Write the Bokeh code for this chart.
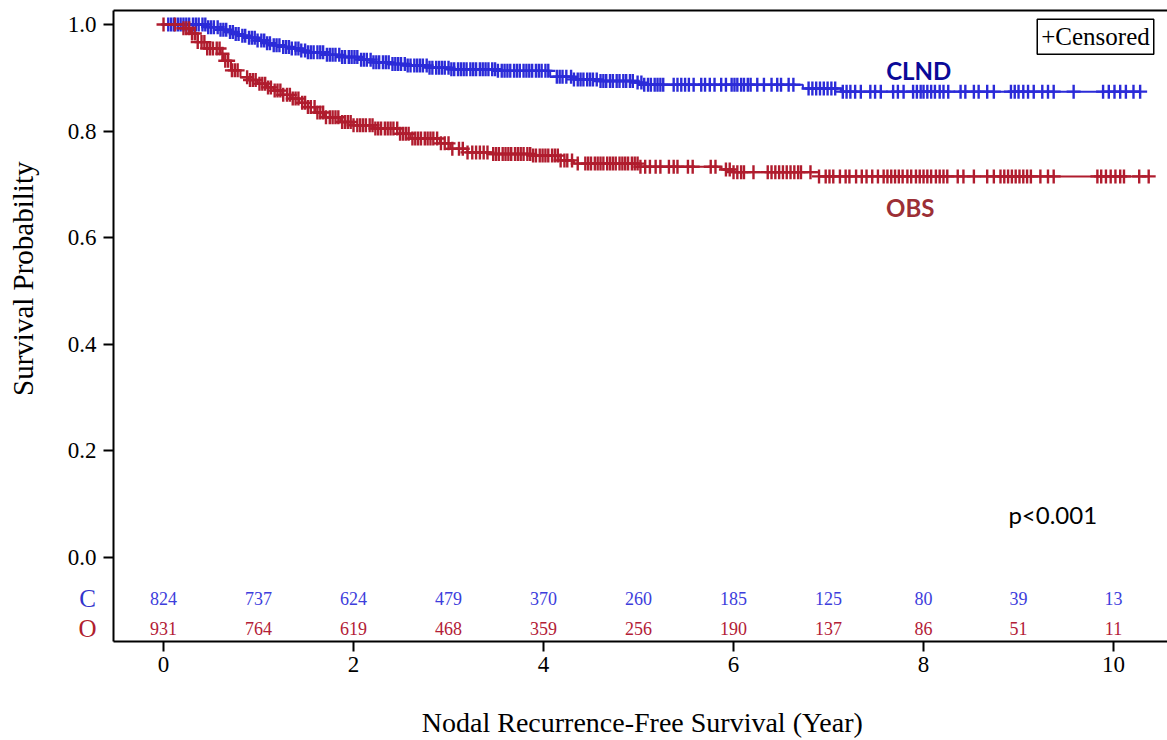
import numpy as np
from bokeh.plotting import figure
from bokeh.models import Range1d, FixedTicker, Label, ColumnDataSource
from bokeh.core.properties import value
from bokeh.embed import file_html
from bokeh.resources import INLINE

# ---------------- data ----------------
clnd_time = [0.0, 0.46, 0.60, 0.67, 0.75, 0.81, 0.90, 0.99, 1.08, 1.16, 1.25, 1.34, 1.43,
             1.52, 1.70, 1.86, 2.05, 2.21, 2.40, 2.57, 2.80, 3.02, 3.50, 4.07, 4.32, 4.60,
             4.95, 5.05, 6.73, 7.13, 10.28]
clnd_surv = [1.0, 0.995, 0.990, 0.986, 0.982, 0.979, 0.975, 0.970, 0.965, 0.961, 0.958, 0.955,
             0.951, 0.948, 0.943, 0.939, 0.934, 0.929, 0.926, 0.923, 0.919, 0.916, 0.913, 0.902,
             0.897, 0.894, 0.891, 0.887, 0.880, 0.874, 0.874]

obs_time = [0.0, 0.21, 0.28, 0.36, 0.46, 0.60, 0.63, 0.71, 0.81, 0.90, 0.99, 1.08, 1.16, 1.25,
            1.34, 1.43, 1.52, 1.60, 1.69, 1.86, 2.00, 2.21, 2.49, 2.60, 2.91, 3.02, 3.20, 3.47,
            3.89, 4.18, 4.32, 5.02, 5.87, 6.00, 6.90, 10.37]
obs_surv = [1.0, 0.993, 0.983, 0.967, 0.955, 0.945, 0.932, 0.914, 0.901, 0.896, 0.889, 0.882,
            0.876, 0.868, 0.861, 0.853, 0.845, 0.835, 0.826, 0.817, 0.811, 0.805, 0.795, 0.786,
            0.777, 0.767, 0.760, 0.757, 0.754, 0.745, 0.739, 0.733, 0.728, 0.723, 0.715, 0.715]

clnd_censored = [
    0.05, 0.08, 0.11, 0.15, 0.18, 0.21, 0.24, 0.27, 0.31, 0.34, 0.37, 0.41, 0.44, 0.47, 0.50,
    0.53, 0.57, 0.60, 0.63, 0.66, 0.70, 0.73, 0.76, 0.79, 0.83, 0.86, 0.90, 0.93, 0.96, 0.99,
    1.03, 1.06, 1.09, 1.12, 1.16, 1.19, 1.22, 1.26, 1.29, 1.32, 1.35, 1.39, 1.42, 1.45, 1.49,
    1.52, 1.55, 1.58, 1.62, 1.65, 1.68, 1.72, 1.75, 1.78, 1.81, 1.85, 1.88, 1.91, 1.95, 1.98,
    2.01, 2.04, 2.08, 2.11, 2.14, 2.18, 2.21, 2.24, 2.27, 2.31, 2.34, 2.37, 2.41, 2.44, 2.47,
    2.50, 2.54, 2.57, 2.60, 2.64, 2.67, 2.70, 2.73, 2.77, 2.80, 2.83, 2.87, 2.90, 2.93, 2.96,
    3.00, 3.03, 3.06, 3.10, 3.13, 3.16, 3.19, 3.23, 3.26, 3.29, 3.33, 3.36, 3.39, 3.42, 3.46,
    3.49, 3.52, 3.56, 3.59, 3.62, 3.65, 3.69, 3.72, 3.75, 3.79, 3.82, 3.85, 3.88, 3.92, 3.95,
    3.98, 4.02, 4.05, 4.14, 4.17, 4.20, 4.24, 4.29, 4.32, 4.36, 4.39, 4.42, 4.46, 4.49, 4.52,
    4.56, 4.60, 4.63, 4.66, 4.70, 4.73, 4.77, 4.80, 4.84, 4.87, 4.91, 4.94, 4.99, 5.03, 5.06,
    5.10, 5.13, 5.17, 5.20, 5.23, 5.26, 5.37, 5.41, 5.45, 5.49, 5.53, 5.58, 5.66, 5.70, 5.75,
    5.80, 5.87, 5.92, 5.98, 6.01, 6.04, 6.08, 6.11, 6.15, 6.18, 6.25, 6.32, 6.40, 6.46, 6.50,
    6.58, 6.63, 6.79, 6.83, 6.87, 6.91, 6.95, 6.99, 7.03, 7.07, 7.15, 7.19, 7.23, 7.28, 7.34,
    7.44, 7.49, 7.55, 7.68, 7.73, 7.79, 7.89, 7.93, 7.97, 8.00, 8.04, 8.08, 8.12, 8.17, 8.21,
    8.26, 8.39, 8.44, 8.53, 8.58, 8.67, 8.74, 8.92, 8.96, 9.00, 9.05, 9.10, 9.16, 9.25, 9.31,
    9.37, 9.58, 9.89, 9.95, 10.01, 10.07, 10.13, 10.21, 10.28]

obs_censored = [
    0.00, 0.12, 0.21, 0.24, 0.27, 0.30, 0.33, 0.36, 0.40, 0.43, 0.46, 0.49, 0.52, 0.56, 0.59,
    0.62, 0.65, 0.68, 0.72, 0.75, 0.78, 0.88, 0.91, 0.94, 0.97, 1.01, 1.04, 1.07, 1.10, 1.13,
    1.17, 1.20, 1.23, 1.26, 1.30, 1.33, 1.36, 1.39, 1.42, 1.46, 1.49, 1.52, 1.55, 1.59, 1.62,
    1.65, 1.68, 1.71, 1.75, 1.78, 1.81, 1.84, 1.88, 1.91, 1.94, 1.97, 2.00, 2.04, 2.07, 2.10,
    2.13, 2.17, 2.20, 2.23, 2.26, 2.29, 2.33, 2.36, 2.39, 2.42, 2.46, 2.49, 2.52, 2.55, 2.58,
    2.62, 2.65, 2.68, 2.71, 2.75, 2.78, 2.81, 2.84, 2.88, 2.92, 2.96, 3.00, 3.04, 3.11, 3.15,
    3.20, 3.25, 3.29, 3.33, 3.37, 3.41, 3.47, 3.50, 3.53, 3.57, 3.60, 3.63, 3.66, 3.70, 3.73,
    3.76, 3.79, 3.83, 3.86, 3.89, 3.92, 3.96, 3.99, 4.02, 4.05, 4.09, 4.12, 4.15, 4.18, 4.22,
    4.25, 4.30, 4.36, 4.44, 4.47, 4.50, 4.54, 4.57, 4.60, 4.63, 4.67, 4.70, 4.73, 4.76, 4.80,
    4.83, 4.86, 4.89, 4.93, 4.96, 4.99, 5.02, 5.07, 5.12, 5.18, 5.23, 5.32, 5.37, 5.41, 5.52,
    5.57, 5.76, 5.81, 5.92, 5.96, 6.00, 6.04, 6.08, 6.11, 6.21, 6.36, 6.40, 6.44, 6.48, 6.52,
    6.56, 6.60, 6.64, 6.68, 6.71, 6.81, 6.90, 6.97, 7.01, 7.05, 7.12, 7.18, 7.22, 7.29, 7.35,
    7.40, 7.46, 7.52, 7.58, 7.62, 7.66, 7.70, 7.74, 7.78, 7.83, 7.87, 7.92, 7.96, 8.00, 8.04,
    8.08, 8.13, 8.17, 8.21, 8.25, 8.36, 8.42, 8.53, 8.67, 8.74, 8.81, 8.85, 8.89, 8.93, 8.97,
    9.01, 9.05, 9.09, 9.13, 9.23, 9.31, 9.37, 9.83, 9.87, 9.92, 9.97, 10.02, 10.07, 10.11,
    10.27, 10.37]

risk_years = [0, 1, 2, 3, 4, 5, 6, 7, 8, 9, 10]
clnd_at_risk = [824, 737, 624, 479, 370, 260, 185, 125, 80, 39, 13]
obs_at_risk = [931, 764, 619, 468, 359, 256, 190, 137, 86, 51, 11]

x_ticks = [0, 2, 4, 6, 8, 10]
y_ticks = [0.0, 0.2, 0.4, 0.6, 0.8, 1.0]

group_names = ["CLND", "OBS"]
risk_row_names = ["C", "O"]

# ---------------- styles / layout ----------------
BLUE = "#2b2bd8"
RED = "#b01c2e"
BLUE_TXT = "#3d3ddc"
RED_TXT = "#b32036"
SERIF = "Liberation Serif"

X_START, X_END = -1.716, 10.568      # frame spans the full canvas
Y_START, Y_END = -0.3433, 1.030
AXIS_X = -0.526                      # where the vertical axis sits
AXIS_Y = -0.1576                     # where the horizontal axis sits
TOP_Y = 1.0263                       # top frame line
ROW_C, ROW_O = -0.077, -0.133        # at-risk rows
ROW_LABEL_X = -0.80
YLABEL_X, YLABEL_Y = -1.484, 0.523
XLABEL_X, XLABEL_Y = 5.04, -0.3096

def surv_at(times, survs, t):
    idx = np.searchsorted(np.asarray(times), np.asarray(t), side="right") - 1
    return np.asarray(survs)[idx]

p = figure(width=1167, height=740,
           x_range=Range1d(X_START, X_END), y_range=Range1d(Y_START, Y_END),
           output_backend="svg", toolbar_location=None,
           min_border_left=0, min_border_right=0, min_border_top=8, min_border_bottom=0)
p.grid.visible = False
p.outline_line_color = None
p.background_fill_color = "white"
p.border_fill_color = "white"

for ax in (p.xaxis[0], p.yaxis[0]):
    ax.axis_line_width = 2
    ax.axis_line_color = "black"
    ax.major_tick_line_width = 2
    ax.major_tick_line_color = "black"
    ax.major_tick_in = 0
    ax.major_tick_out = 10
    ax.minor_tick_line_color = None
    ax.major_label_text_font = SERIF
    ax.major_label_text_font_size = "23px"
    ax.major_label_text_color = "black"

p.xaxis.ticker = FixedTicker(ticks=x_ticks)
p.xaxis.fixed_location = AXIS_Y
p.xaxis.bounds = (AXIS_X, X_END)
p.xaxis.major_label_standoff = 5

p.yaxis.ticker = FixedTicker(ticks=y_ticks)
p.yaxis.fixed_location = AXIS_X
p.yaxis.bounds = (AXIS_Y, TOP_Y)
p.yaxis.major_label_overrides = {v: f"{v:.1f}" for v in y_ticks}
p.yaxis.major_label_standoff = 7

# top frame line
p.line(x=[AXIS_X, X_END], y=[TOP_Y, TOP_Y], line_color="black", line_width=2)

# axis titles
p.add_layout(Label(x=YLABEL_X, y=YLABEL_Y, text="Survival Probability", angle=np.pi / 2,
                   text_align="center", text_baseline="middle", text_font=SERIF,
                   text_font_size="29px", text_color="black"))
p.add_layout(Label(x=XLABEL_X, y=XLABEL_Y, text="Nodal Recurrence-Free Survival (Year)",
                   text_align="center", text_baseline="middle", text_font=SERIF,
                   text_font_size="28px", text_color="black"))

# curves
for times, survs, cens, col in ((clnd_time, clnd_surv, clnd_censored, BLUE),
                                (obs_time, obs_surv, obs_censored, RED)):
    p.step(x=times, y=survs, mode="after", line_color=col, line_width=2)
    src = ColumnDataSource(dict(x=cens, y=surv_at(times, survs, cens)))
    p.scatter(x="x", y="y", source=src, marker="cross", size=14,
              line_color=col, line_width=2.4)

# numbers at risk
p.text(x=risk_years, y=[ROW_C] * len(risk_years), text=[str(v) for v in clnd_at_risk],
       text_align="center", text_baseline="middle", text_font=value(SERIF),
       text_font_size="18px", text_color=BLUE_TXT)
p.text(x=risk_years, y=[ROW_O] * len(risk_years), text=[str(v) for v in obs_at_risk],
       text_align="center", text_baseline="middle", text_font=value(SERIF),
       text_font_size="18px", text_color=RED_TXT)
p.text(x=[ROW_LABEL_X, ROW_LABEL_X], y=[ROW_C, ROW_O], text=risk_row_names,
       text_align="center", text_baseline="middle", text_font=value(SERIF),
       text_font_size="25px", text_color=["#3333cc", "#b0202e"])

# group labels and p-value
p.add_layout(Label(x=7.95, y=0.914, text=group_names[0], text_align="center",
                   text_baseline="middle", text_font="Lato", text_font_style="bold",
                   text_font_size="24px", text_color="#0a0a98"))
p.add_layout(Label(x=7.86, y=0.657, text=group_names[1], text_align="center",
                   text_baseline="middle", text_font="Lato", text_font_style="bold",
                   text_font_size="24px", text_color="#9c2f36"))
p.add_layout(Label(x=9.36, y=0.081, text="p<0.001", text_align="center",
                   text_baseline="middle", text_font="Lato", text_font_size="24px",
                   text_color="black"))

# censored legend box
p.add_layout(Label(x=9.81, y=0.977, text="+Censored", text_align="center",
                   text_baseline="middle", text_font=SERIF, text_font_size="25px",
                   text_color="black", border_line_color="black", border_line_width=1.5,
                   background_fill_color="white", padding=4))

open("out.html", "w").write(file_html(p, INLINE))
